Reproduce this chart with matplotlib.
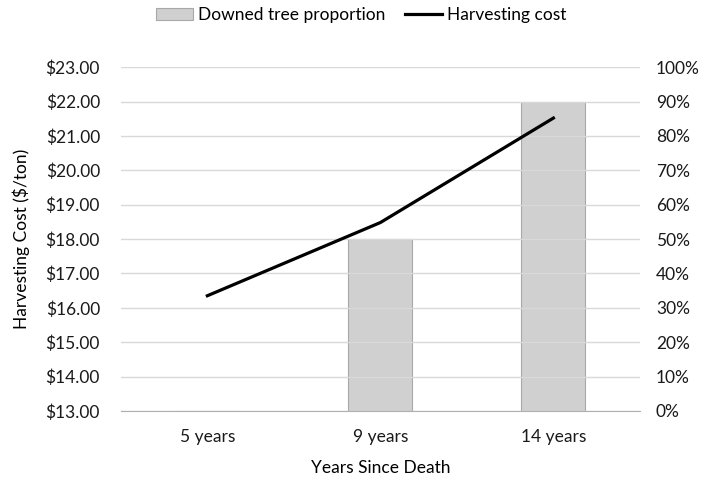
import matplotlib.pyplot as plt
import numpy as np
from matplotlib.ticker import FuncFormatter, PercentFormatter

plt.rcParams['font.family'] = ['Lato', 'DejaVu Sans']

years = ["5 years", "9 years", "14 years"]
downed_pct = [0, 50, 90]
cost = [16.35, 18.48, 21.52]

x = np.arange(len(years))
fs = 12.5

fig = plt.figure(figsize=(7.15, 4.8), dpi=100)
ax = fig.add_axes([0.169, 0.144, 0.726, 0.716])
ax2 = ax.twinx()

ax2.bar(x, downed_pct, width=0.37, color="#d0d0d0", edgecolor="#a8a8a8",
        linewidth=0.8, label="Downed tree proportion", zorder=2)
ax2.set_ylim(0, 100)
ax2.set_yticks(np.arange(0, 101, 10))
ax2.yaxis.set_major_formatter(PercentFormatter(decimals=0))

ax.plot(x, cost, color="black", linewidth=2.3, label="Harvesting cost", zorder=5)
ax.set_ylim(13, 23)
ax.set_yticks(np.arange(13, 23.5, 1))
ax.yaxis.set_major_formatter(FuncFormatter(lambda v, p: f"${v:.2f}"))
ax.set_xlim(-0.5, 2.5)
ax.set_xticks(x)
ax.set_xticklabels(years)
ax.grid(axis="y", color="#d9d9d9", linewidth=1)
ax.set_axisbelow(True)

# line should sit above the bars
ax.set_zorder(ax2.get_zorder() + 1)
ax.patch.set_visible(False)

for a in (ax, ax2):
    for s in a.spines.values():
        s.set_visible(False)
    a.tick_params(length=0, labelsize=fs, colors="#1a1a1a")
ax.spines["bottom"].set_visible(True)
ax.spines["bottom"].set_color("#b0b0b0")
ax.tick_params(axis="y", pad=15)
ax2.tick_params(axis="y", pad=11.5)
ax.tick_params(axis="x", pad=13)

ax.set_ylabel("Harvesting Cost ($/ton)", fontsize=fs, labelpad=11)
ax.set_xlabel("Years Since Death", fontsize=fs, labelpad=11)

h1, l1 = ax2.get_legend_handles_labels()
h2, l2 = ax.get_legend_handles_labels()
fig.legend(h1 + h2, l1 + l2, loc="center", bbox_to_anchor=(0.505, 0.968),
           ncol=2, frameon=False, fontsize=fs, handlelength=2.1,
           handletextpad=0.3, columnspacing=1.15, borderpad=0)

fig.savefig("out.png", dpi=100)
